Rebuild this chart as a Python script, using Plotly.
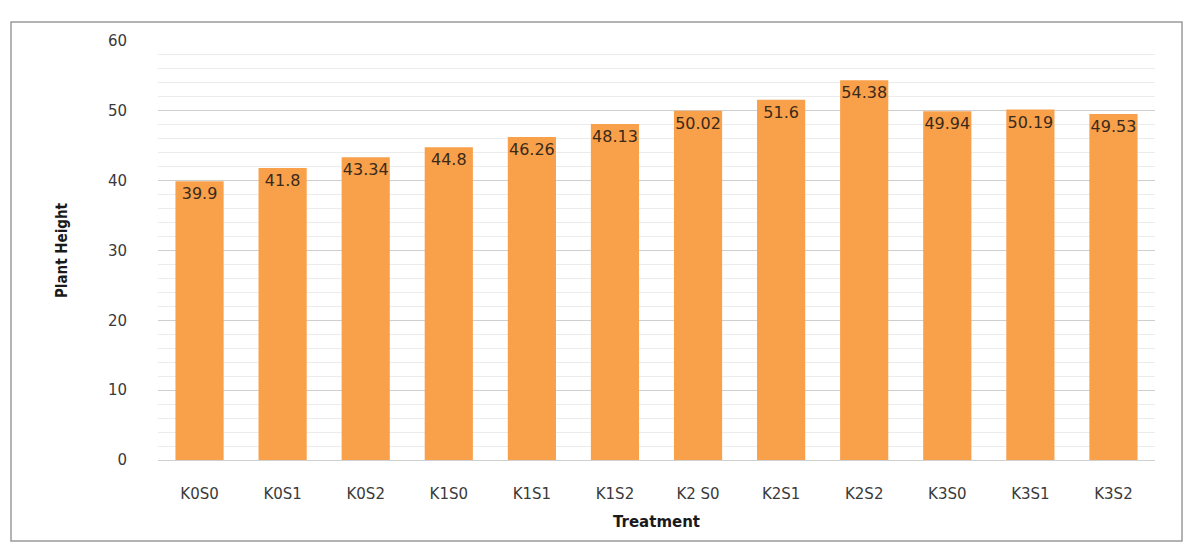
import plotly.graph_objects as go

treatments = ["K0S0", "K0S1", "K0S2", "K1S0", "K1S1", "K1S2",
              "K2 S0", "K2S1", "K2S2", "K3S0", "K3S1", "K3S2"]
plant_height = [39.9, 41.8, 43.34, 44.8, 46.26, 48.13,
                50.02, 51.6, 54.38, 49.94, 50.19, 49.53]
value_labels = ["39.9", "41.8", "43.34", "44.8", "46.26", "48.13",
                "50.02", "51.6", "54.38", "49.94", "50.19", "49.53"]
y_ticks = [0, 10, 20, 30, 40, 50, 60]

OFF = 8  # page body margin
W, H = 1176, 535
# target plot area in page pixels: x 158..1155, y 41..460
L = 158 - OFF
T = 41 - OFF
R = W - (1155 - OFF)
B = H - (460 - OFF)
pw, ph = W - L - R, H - T - B

def px_x(p):
    return (p - OFF - L) / pw

def px_y(p):
    return 1 - (p - OFF - T) / ph

fig = go.Figure()
fig.add_trace(go.Bar(
    x=treatments, y=plant_height,
    text=value_labels, textposition="inside", insidetextanchor="end", textangle=0,
    textfont=dict(family="DejaVu Sans", size=16, color="#3a2a1a"),
    marker=dict(color="#F9A04B", line=dict(width=0)),
    width=0.58, cliponaxis=False,
))

fig.update_layout(
    width=W, height=H,
    margin=dict(l=L, r=R, t=T, b=B),
    paper_bgcolor="white", plot_bgcolor="white",
    showlegend=False,
    font=dict(family="DejaVu Sans", color="#404040"),
    uniformtext=dict(minsize=16, mode="show"),
    xaxis=dict(
        tickfont=dict(size=15, color="#3a3a3a"),
        showgrid=False, showline=True, linecolor="#d0d0d0",
        ticks="", ticklabelstandoff=20,
        title=dict(text="<b>Treatment</b>", font=dict(size=15, color="#1a1a1a"), standoff=14),
    ),
    yaxis=dict(
        range=[0, 60], tickvals=y_ticks,
        tickfont=dict(size=15, color="#3a3a3a"),
        showgrid=True, gridcolor="#cfcfcf", gridwidth=1,
        minor=dict(dtick=2, showgrid=True, gridcolor="#ececec", gridwidth=1),
        zeroline=False, showline=False, ticks="", ticklabelstandoff=30,
        title=dict(text="<b>Plant Height</b>", font=dict(family="Liberation Sans Narrow, DejaVu Sans Condensed, Liberation Sans", size=15, color="#1a1a1a"), standoff=36),
    ),
)

fig.add_shape(type="rect", xref="paper", yref="paper",
              x0=px_x(11), x1=px_x(1182), y0=px_y(541), y1=px_y(22),
              line=dict(color="#9a9a9a", width=1.5), fillcolor="rgba(0,0,0,0)", layer="below")

fig.write_html("out.html")
